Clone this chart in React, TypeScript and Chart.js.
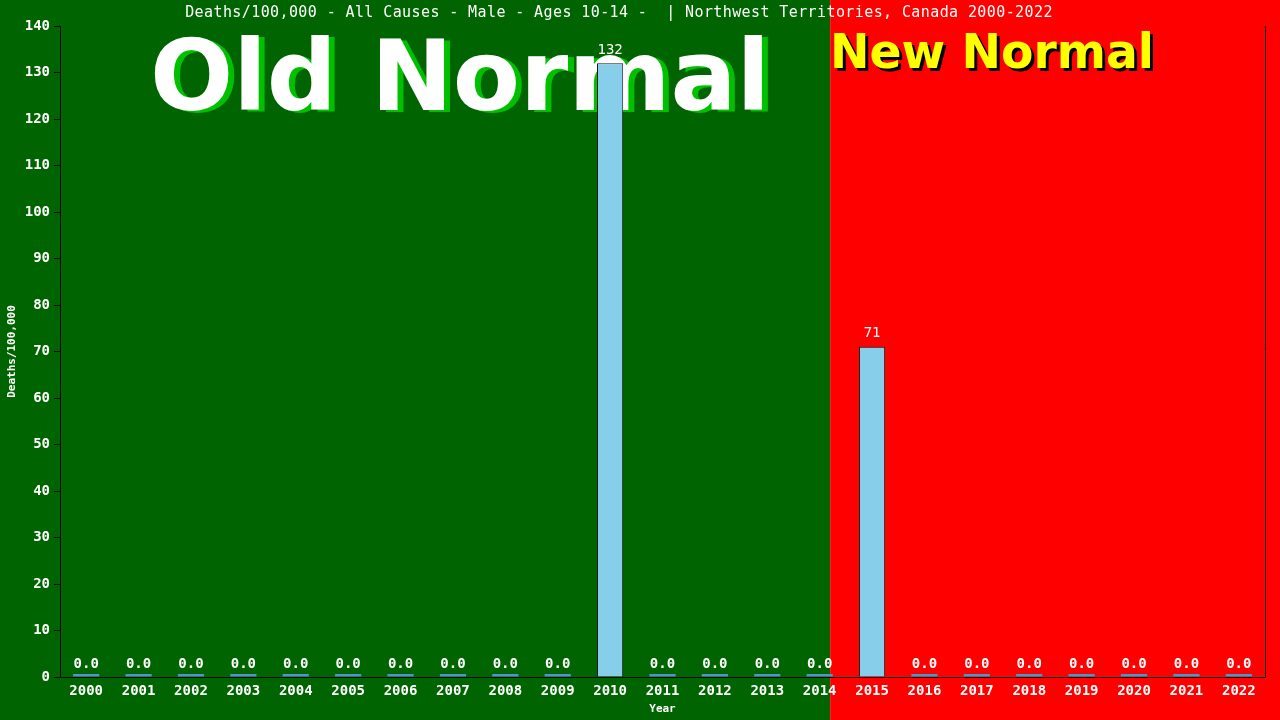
import React, { useEffect, useRef } from 'react';
import { Chart, registerables, Plugin } from 'chart.js';

Chart.register(...registerables);

const years = [
  '2000', '2001', '2002', '2003', '2004', '2005', '2006', '2007', '2008', '2009', '2010', '2011',
  '2012', '2013', '2014', '2015', '2016', '2017', '2018', '2019', '2020', '2021', '2022',
];
const deathsPer100k = [0, 0, 0, 0, 0, 0, 0, 0, 0, 0, 132, 0, 0, 0, 0, 71, 0, 0, 0, 0, 0, 0, 0];
const yMin = 0;
const yMax = 140;
const yStep = 10;
const chartTitle = 'Deaths/100,000 - All Causes - Male - Ages 10-14 -  | Northwest Territories, Canada 2000-2022';
// where the red "new normal" zone starts, in category index units
const newNormalFrom = 14.2;

const MONO = '"DejaVu Sans Mono", monospace';

function drawBanner(
  ctx: CanvasRenderingContext2D,
  text: string,
  x: number,
  y: number,
  size: number,
  targetWidth: number,
  color: string,
  shadow: string,
  dx: number,
  dy: number
) {
  ctx.save();
  ctx.font = `bold ${size}px "DejaVu Sans", sans-serif`;
  ctx.textAlign = 'left';
  ctx.textBaseline = 'alphabetic';
  const sx = targetWidth / ctx.measureText(text).width;
  ctx.save();
  ctx.translate(x + dx, y + dy);
  ctx.scale(sx, 1);
  ctx.fillStyle = shadow;
  ctx.fillText(text, 0, 0);
  ctx.restore();
  ctx.translate(x, y);
  ctx.scale(sx, 1);
  ctx.fillStyle = color;
  ctx.fillText(text, 0, 0);
  ctx.restore();
}

const backdrop: Plugin<'bar'> = {
  id: 'backdrop',
  beforeDraw(chart) {
    const { ctx, width, height } = chart;
    const split = chart.scales.x.getPixelForValue(newNormalFrom);
    ctx.save();
    ctx.fillStyle = '#006400';
    ctx.fillRect(0, 0, split, height);
    ctx.fillStyle = '#ff0000';
    ctx.fillRect(split, 0, width - split, height);

    drawBanner(ctx, 'Old Normal', 150, 110, 98, 620, '#ffffff', '#00c000', 6, 2);
    drawBanner(ctx, 'New Normal', 830, 68, 48, 324, '#ffff00', '#000000', 3, 3);

    ctx.font = `15px ${MONO}`;
    (ctx as any).letterSpacing = '0.4px';
    ctx.fillStyle = '#ffffff';
    ctx.textAlign = 'center';
    ctx.textBaseline = 'middle';
    ctx.fillText(chartTitle, 619, 13);
    ctx.restore();
  },
  afterDatasetsDraw(chart) {
    const { ctx, chartArea } = chart;
    const yScale = chart.scales.y;
    const meta = chart.getDatasetMeta(0);
    ctx.save();
    ctx.fillStyle = '#ffffff';
    ctx.textAlign = 'center';
    ctx.textBaseline = 'middle';
    meta.data.forEach((bar, i) => {
      const v = deathsPer100k[i];
      ctx.font = v === 0 ? `bold 14px ${MONO}` : `14px ${MONO}`;
      ctx.fillText(v === 0 ? '0.0' : String(v), bar.x, yScale.getPixelForValue(v) - 13);
    });
    ctx.strokeStyle = '#000000';
    ctx.lineWidth = 1;
    ctx.beginPath();
    ctx.moveTo(Math.round(chartArea.right) + 0.5, chartArea.top);
    ctx.lineTo(Math.round(chartArea.right) + 0.5, chartArea.bottom);
    ctx.stroke();
    ctx.restore();
  },
};

const App: React.FC = () => {
  const canvasRef = useRef<HTMLCanvasElement>(null);

  useEffect(() => {
    if (!canvasRef.current) return;
    const chart = new Chart(canvasRef.current, {
      type: 'bar',
      data: {
        labels: years,
        datasets: [
          {
            data: deathsPer100k,
            backgroundColor: (c: any) => (c.raw === 0 ? '#4f95cc' : '#87ceeb'),
            borderColor: '#1a1a1a',
            borderWidth: (c: any) => (c.raw === 0 ? 0 : 1),
            borderSkipped: 'bottom',
            minBarLength: 3,
            barPercentage: 0.5,
            categoryPercentage: 1,
          },
        ],
      },
      options: {
        responsive: true,
        maintainAspectRatio: false,
        animation: false,
        layout: { padding: { top: 26, right: 15, left: 0, bottom: 0 } },
        plugins: {
          legend: { display: false },
          tooltip: { enabled: false },
          title: { display: false },
        },
        scales: {
          x: {
            grid: { display: false, drawTicks: false },
            border: { display: true, color: '#000000', width: 1 },
            ticks: {
              color: '#ffffff',
              font: { family: MONO, size: 14, weight: 'bold' },
              padding: 6,
              maxRotation: 0,
              autoSkip: false,
            },
            title: {
              display: true,
              text: 'Year',
              color: '#ffffff',
              font: { family: MONO, size: 11, weight: 'bold' },
              padding: { top: 0, bottom: 4 },
            },
            afterFit: (s: any) => {
              s.height = 43;
            },
          },
          y: {
            min: yMin,
            max: yMax,
            grid: { drawOnChartArea: false, drawTicks: true, tickLength: 6, color: '#000000' },
            border: { display: true, color: '#000000', width: 1 },
            ticks: {
              stepSize: yStep,
              color: '#ffffff',
              font: { family: MONO, size: 14, weight: 'bold' },
              padding: 4,
            },
            title: {
              display: true,
              text: 'Deaths/100,000',
              color: '#ffffff',
              font: { family: MONO, size: 11, weight: 'bold' },
              padding: { top: 6, bottom: 0 },
            },
            afterFit: (s: any) => {
              s.width = 60;
            },
          },
        },
      },
      plugins: [backdrop],
    });
    return () => chart.destroy();
  }, []);

  return (
    <div style={{ position: 'absolute', left: 0, top: 0, width: 1280, height: 720 }}>
      <canvas ref={canvasRef} />
    </div>
  );
};

export default App;
